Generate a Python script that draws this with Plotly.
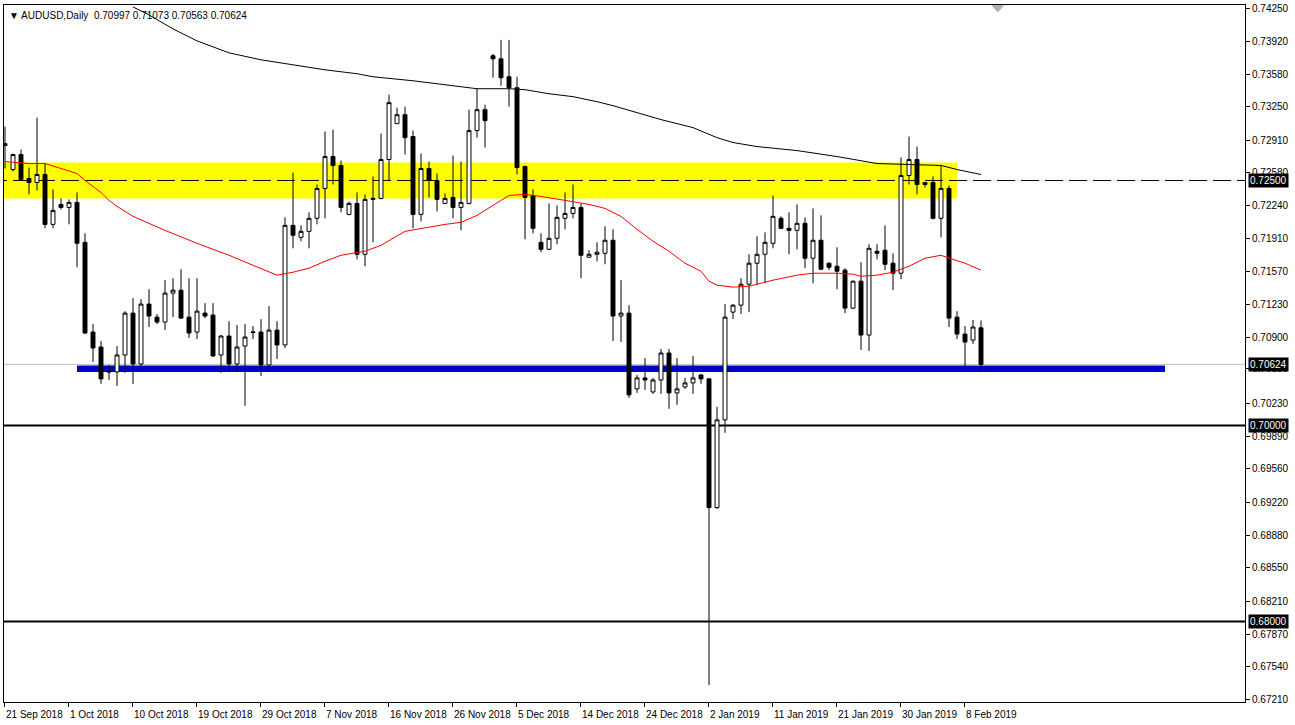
import plotly.graph_objects as go

# ---------------- data ----------------
date_labels = ["21 Sep 2018", "1 Oct 2018", "10 Oct 2018", "19 Oct 2018", "29 Oct 2018",
               "7 Nov 2018", "16 Nov 2018", "26 Nov 2018", "5 Dec 2018", "14 Dec 2018",
               "24 Dec 2018", "2 Jan 2019", "11 Jan 2019", "21 Jan 2019", "30 Jan 2019",
               "8 Feb 2019"]
label_every = 8

opens = [
    0.72856, 0.72612, 0.72765, 0.72520, 0.72480, 0.72561, 0.72052, 0.72256, 0.72225, 0.72276,
    0.71869, 0.70954, 0.70801, 0.70557, 0.70547, 0.70720, 0.71147, 0.70628, 0.71239, 0.71106,
    0.71056, 0.71351, 0.71381, 0.71106, 0.70954, 0.71147, 0.71127, 0.70720, 0.70913, 0.70628,
    0.70811, 0.70949, 0.70954, 0.70618, 0.70974, 0.70822, 0.72042, 0.71920, 0.71981, 0.72114,
    0.72419, 0.72744, 0.72653, 0.72154, 0.72266, 0.71747, 0.72307, 0.72317, 0.72714, 0.73080,
    0.73171, 0.72948, 0.72154, 0.72622, 0.72500, 0.72266, 0.72327, 0.72225, 0.72266, 0.73009,
    0.73222, 0.73772, 0.73741, 0.73558, 0.73446, 0.72642, 0.72347, 0.71869, 0.71798, 0.71910,
    0.72114, 0.72164, 0.72225, 0.71717, 0.71747, 0.71757, 0.71890, 0.71117, 0.71147, 0.70374,
    0.70486, 0.70343, 0.70465, 0.70740, 0.70333, 0.70394, 0.70435, 0.70516, 0.70476, 0.69163,
    0.70058, 0.71157, 0.71228, 0.71442, 0.71656, 0.71747, 0.71859, 0.72114, 0.72012, 0.71991,
    0.72063, 0.71707, 0.71890, 0.71656, 0.71625, 0.71585, 0.71198, 0.71473, 0.70923, 0.71778,
    0.71788, 0.71656, 0.71554, 0.72551, 0.72714, 0.72459, 0.72480, 0.72114, 0.72419, 0.71106,
    0.70933, 0.70872, 0.70997]
highs = [
    0.73049, 0.72775, 0.72815, 0.72632, 0.73141, 0.72673, 0.72408, 0.72317, 0.72307, 0.72378,
    0.71961, 0.71035, 0.70862, 0.70618, 0.70811, 0.71167, 0.71300, 0.71289, 0.71391, 0.71137,
    0.71483, 0.71503, 0.71595, 0.71503, 0.71503, 0.71249, 0.71249, 0.70923, 0.71066, 0.71025,
    0.71035, 0.71015, 0.71086, 0.71218, 0.71066, 0.72124, 0.72581, 0.72042, 0.72175, 0.72459,
    0.72999, 0.73019, 0.72704, 0.72286, 0.72378, 0.72358, 0.72541, 0.72978, 0.73375, 0.73243,
    0.73253, 0.73009, 0.72775, 0.72693, 0.72571, 0.72368, 0.72754, 0.72693, 0.73222, 0.73436,
    0.73273, 0.73792, 0.73934, 0.73934, 0.73558, 0.72653, 0.72408, 0.71961, 0.72266, 0.72246,
    0.72378, 0.72459, 0.72266, 0.71788, 0.71869, 0.72032, 0.72002, 0.71483, 0.71228, 0.70516,
    0.70689, 0.70486, 0.70781, 0.70781, 0.70689, 0.70486, 0.70710, 0.70526, 0.70486, 0.70191,
    0.71239, 0.71239, 0.71503, 0.71747, 0.71930, 0.71971, 0.72347, 0.72134, 0.72175, 0.72256,
    0.72124, 0.72215, 0.72144, 0.71666, 0.71818, 0.71605, 0.71478, 0.71666, 0.71849, 0.71849,
    0.72042, 0.71757, 0.72734, 0.72948, 0.72846, 0.72485, 0.72541, 0.72653, 0.72449, 0.71167,
    0.71015, 0.71076, 0.71073]
lows = [
    0.72622, 0.72592, 0.72500, 0.72358, 0.72398, 0.72012, 0.72012, 0.72205, 0.72052, 0.71615,
    0.70933, 0.70649, 0.70425, 0.70465, 0.70404, 0.70537, 0.70425, 0.70608, 0.71005, 0.71035,
    0.70974, 0.71106, 0.71086, 0.70893, 0.70883, 0.71096, 0.70699, 0.70537, 0.70547, 0.70557,
    0.70201, 0.70883, 0.70506, 0.70567, 0.70679, 0.70791, 0.71808, 0.71880, 0.71808, 0.72052,
    0.72114, 0.72459, 0.72175, 0.72144, 0.71696, 0.71625, 0.71869, 0.72307, 0.72500, 0.73080,
    0.72765, 0.72012, 0.72083, 0.72327, 0.72185, 0.72266, 0.72114, 0.71991, 0.72256, 0.72937,
    0.72836, 0.73548, 0.73466, 0.73253, 0.72561, 0.71900, 0.71961, 0.71768, 0.71788, 0.71849,
    0.72002, 0.72114, 0.71503, 0.71717, 0.71676, 0.71645, 0.70862, 0.70852, 0.70282, 0.70333,
    0.70364, 0.70323, 0.70323, 0.70170, 0.70211, 0.70374, 0.70323, 0.70425, 0.67352, 0.69150,
    0.69926, 0.71086, 0.71137, 0.71157, 0.71432, 0.71452, 0.71808, 0.72005, 0.71747, 0.71798,
    0.71605, 0.71452, 0.71585, 0.71585, 0.71391, 0.71147, 0.71188, 0.70771, 0.70760, 0.71696,
    0.71585, 0.71381, 0.71493, 0.72459, 0.72358, 0.72429, 0.72103, 0.71920, 0.71005, 0.70883,
    0.70598, 0.70832, 0.70563]
closes = [
    0.72876, 0.72765, 0.72510, 0.72480, 0.72561, 0.72052, 0.72195, 0.72225, 0.72276, 0.71859,
    0.70944, 0.70791, 0.70476, 0.70547, 0.70720, 0.71147, 0.70628, 0.71239, 0.71117, 0.71056,
    0.71351, 0.71381, 0.71096, 0.70944, 0.71167, 0.71117, 0.70710, 0.70913, 0.70628, 0.70801,
    0.70903, 0.70954, 0.70618, 0.70974, 0.70822, 0.72042, 0.71941, 0.71981, 0.72114, 0.72419,
    0.72744, 0.72653, 0.72225, 0.72266, 0.71747, 0.72307, 0.72317, 0.72714, 0.73294, 0.73171,
    0.72937, 0.72154, 0.72622, 0.72500, 0.72307, 0.72317, 0.72225, 0.72276, 0.73009, 0.73222,
    0.73110, 0.73741, 0.73548, 0.73446, 0.72632, 0.72327, 0.72012, 0.71798, 0.71910, 0.72124,
    0.72164, 0.72225, 0.71737, 0.71747, 0.71768, 0.71890, 0.71117, 0.71147, 0.70313, 0.70486,
    0.70465, 0.70465, 0.70740, 0.70333, 0.70374, 0.70435, 0.70486, 0.70476, 0.69163, 0.70058,
    0.71106, 0.71228, 0.71442, 0.71656, 0.71747, 0.71869, 0.72134, 0.72012, 0.71991, 0.72063,
    0.71707, 0.71890, 0.71595, 0.71615, 0.71574, 0.71198, 0.71473, 0.70923, 0.71808, 0.71757,
    0.71645, 0.71554, 0.72551, 0.72714, 0.72459, 0.72480, 0.72114, 0.72419, 0.71096, 0.70933,
    0.70852, 0.71005, 0.70624]

# moving averages (bar index, price)
ma_red_bar = [0, 3, 5, 8, 9, 10, 12, 13, 14, 16, 20, 24, 28, 31, 34, 36, 38, 40, 42, 45, 47, 50,
              52, 55, 57, 59, 61, 63, 65, 67, 70, 73, 75, 77, 79, 81, 83, 85, 87, 88, 89, 91, 93,
              96, 99, 101, 104, 106, 107, 109, 111, 113, 115, 117, 118, 120, 122]
ma_red_val = [0.72693, 0.72673, 0.72673, 0.72602, 0.72571, 0.72500, 0.72378, 0.72297, 0.72236,
              0.72134, 0.71991, 0.71859, 0.71737, 0.71635, 0.71534, 0.71564, 0.71605, 0.71676,
              0.71737, 0.71778, 0.71839, 0.71981, 0.72012, 0.72052, 0.72073, 0.72144, 0.72246,
              0.72347, 0.72358, 0.72337, 0.72297, 0.72256, 0.72215, 0.72134, 0.72002, 0.71880,
              0.71778, 0.71656, 0.71574, 0.71473, 0.71432, 0.71412, 0.71422, 0.71483, 0.71534,
              0.71554, 0.71554, 0.71544, 0.71523, 0.71534, 0.71564, 0.71625, 0.71707, 0.71737,
              0.71707, 0.71656, 0.71585]
ma_black_bar = [16, 18, 21, 24, 28, 32, 36, 40, 44, 46, 51, 54, 57, 59, 63, 65, 68, 71, 74, 76,
                79, 82, 86, 89, 91, 94, 99, 104, 109, 113, 117, 119, 122]
ma_black_val = [0.74270, 0.74189, 0.74046, 0.73924, 0.73802, 0.73731, 0.73680, 0.73629, 0.73589,
                0.73558, 0.73517, 0.73487, 0.73456, 0.73436, 0.73436, 0.73426, 0.73385, 0.73355,
                0.73304, 0.73263, 0.73192, 0.73121, 0.73039, 0.72937, 0.72887, 0.72846, 0.72805,
                0.72744, 0.72673, 0.72663, 0.72653, 0.72612, 0.72561]

y_tick_vals = [0.74250, 0.73920, 0.73580, 0.73250, 0.72910, 0.72580, 0.72240, 0.71910, 0.71570,
               0.71230, 0.70900, 0.70580, 0.70230, 0.69890, 0.69560, 0.69220, 0.68880, 0.68550,
               0.68210, 0.67870, 0.67540, 0.67210]

# zones / levels
zone_yellow = (0.72317, 0.72683)
zone_yellow_end_bar = 119
zone_blue = (0.70547, 0.70613)
zone_blue_bars = (9, 145)
dashed_level = 0.72500
bid_level = 0.70624
round_levels = [0.70000, 0.68000]
marked_labels = [0.72500, 0.70624, 0.70000, 0.68000]
title_text = "AUDUSD,Daily  0.70997 0.71073 0.70563 0.70624"

# ---------------- figure ----------------
FONT = "Liberation Sans, Arial, sans-serif"
n = len(opens)
xs = list(range(n))
x_range = [-0.125, 155.0]
y_range = [0.67180, 0.74290]

fig = go.Figure()

fig.add_trace(go.Candlestick(
    x=xs, open=opens, high=highs, low=lows, close=closes,
    increasing=dict(line=dict(color="black", width=1), fillcolor="white"),
    decreasing=dict(line=dict(color="black", width=1), fillcolor="black"),
    whiskerwidth=0, showlegend=False, hoverinfo="skip"))

fig.add_trace(go.Scatter(x=ma_red_bar, y=ma_red_val, mode="lines",
                         line=dict(color="#FF0000", width=1), showlegend=False, hoverinfo="skip"))
fig.add_trace(go.Scatter(x=ma_black_bar, y=ma_black_val, mode="lines",
                         line=dict(color="black", width=1), showlegend=False, hoverinfo="skip"))

shapes = []
shapes.append(dict(type="rect", xref="x", yref="y", x0=-2, x1=zone_yellow_end_bar,
                   y0=zone_yellow[0], y1=zone_yellow[1], fillcolor="#FFFF00",
                   line=dict(width=0), layer="below"))
shapes.append(dict(type="line", xref="x", yref="y", x0=-2, x1=160, y0=dashed_level, y1=dashed_level,
                   line=dict(color="black", width=1, dash="18px,6px"), layer="below"))
shapes.append(dict(type="line", xref="x", yref="y", x0=-2, x1=160, y0=bid_level, y1=bid_level,
                   line=dict(color="#C0C0C0", width=1), layer="below"))
shapes.append(dict(type="rect", xref="x", yref="y", x0=zone_blue_bars[0], x1=zone_blue_bars[1],
                   y0=zone_blue[0], y1=zone_blue[1], fillcolor="#0000CC",
                   line=dict(width=0), layer="below"))
for lv in round_levels:
    shapes.append(dict(type="line", xref="x", yref="y", x0=-2, x1=160, y0=lv, y1=lv,
                       line=dict(color="black", width=2), layer="below"))
# shift marker triangle at the top
shapes.append(dict(type="path", xref="x", yref="paper",
                   path="M 123.4 0.999 L 124.8 0.999 L 124.1 0.990 Z",
                   fillcolor="#B0B0B0", line=dict(color="#B0B0B0", width=1)))

annotations = []
for k, lab in enumerate(date_labels):
    annotations.append(dict(x=k * label_every - 0.1, y=0, xref="x", yref="paper", text=lab,
                            showarrow=False, xanchor="left", yanchor="top", yshift=-5,
                            font=dict(family=FONT, size=10, color="black")))
for lv in marked_labels:
    annotations.append(dict(x=1, y=lv, xref="paper", yref="y", text=f"{lv:.5f}",
                            showarrow=False, xanchor="left", yanchor="middle", xshift=3,
                            bgcolor="black", borderpad=1,
                            font=dict(family=FONT, size=10, color="white")))
annotations.append(dict(x=0, y=1, xref="paper", yref="paper", text="\u25BC " + title_text,
                        showarrow=False, xanchor="left", yanchor="top", xshift=3, yshift=-3,
                        font=dict(family=FONT, size=10, color="black")))

fig.update_layout(
    width=1295, height=725,
    margin=dict(l=4, r=50, t=3, b=23),
    paper_bgcolor="white", plot_bgcolor="rgba(0,0,0,0)",
    shapes=shapes, annotations=annotations,
    xaxis=dict(range=x_range, rangeslider=dict(visible=False), showgrid=False, zeroline=False,
               showline=True, linecolor="black", linewidth=1, mirror=True,
               tickmode="array", tickvals=[k * label_every - 0.1 for k in range(len(date_labels))],
               ticks="outside", ticklen=4, tickcolor="black", showticklabels=False),
    yaxis=dict(range=y_range, side="right", showgrid=False, zeroline=False,
               showline=True, linecolor="black", linewidth=1, mirror=True,
               tickmode="array", tickvals=y_tick_vals, ticktext=[f"{v:.5f}" for v in y_tick_vals],
               ticks="outside", ticklen=4, tickcolor="black",
               tickfont=dict(family=FONT, size=10, color="black")),
    hovermode=False,
)

fig.write_html("out.html", config={"displayModeBar": False},
               post_script="document.body.style.margin='0';")
